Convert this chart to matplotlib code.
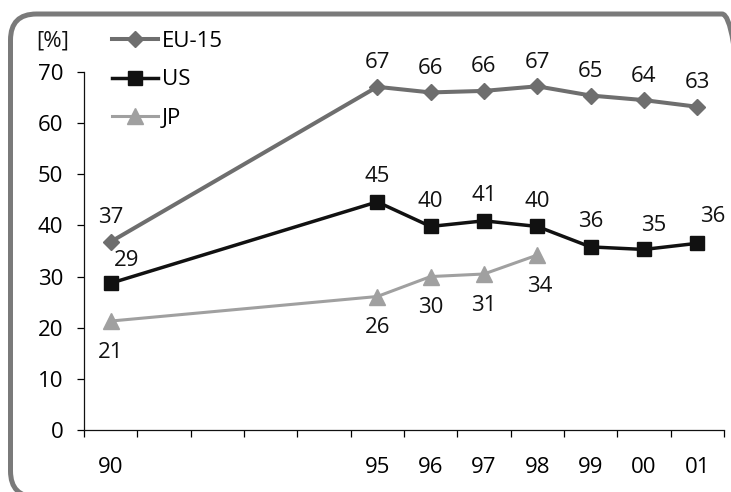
import numpy as np
import matplotlib
matplotlib.use("Agg")
import matplotlib.pyplot as plt
from matplotlib.patches import FancyBboxPatch

plt.rcParams['font.family'] = ['Open Sans', 'DejaVu Sans']

# category axis: 1990..2001, only some years labelled
years = ['90', '91', '92', '93', '94', '95', '96', '97', '98', '99', '00', '01']
year_labels = ['90', '', '', '', '', '95', '96', '97', '98', '99', '00', '01']

eu15 = [36.8, None, None, None, None, 67.1, 66.0, 66.3, 67.2, 65.4, 64.5, 63.2]
us = [28.7, None, None, None, None, 44.6, 39.8, 40.9, 39.8, 35.8, 35.3, 36.5]
jp = [21.3, None, None, None, None, 26.1, 30.0, 30.5, 34.2, None, None, None]

eu15_text = ['37', '', '', '', '', '67', '66', '66', '67', '65', '64', '63']
us_text = ['29', '', '', '', '', '45', '40', '41', '40', '36', '35', '36']
jp_text = ['21', '', '', '', '', '26', '30', '31', '34', '', '', '']

FS = 16

# label offsets in pixels (dx, dy)
us_offsets = {0: (16, 23), 10: (10, 24), 11: (16, 27)}

fig = plt.figure(figsize=(7.31, 4.92), dpi=100)

# background axes in pixel units (origin bottom-left), only for the frame
bg = fig.add_axes([0, 0, 1, 1])
bg.set_xlim(0, 731)
bg.set_ylim(0, 492)
bg.axis('off')
frame = FancyBboxPatch((10.5, -5), 737.5, 483,
                       boxstyle='round,pad=0,rounding_size=26',
                       facecolor='none', edgecolor='#7a7a7a',
                       linewidth=3.6)
bg.add_patch(frame)

ax = fig.add_axes([0.1149, 0.126, 0.8753, 0.7277])
ax.patch.set_alpha(0)

x = np.arange(len(years))


def pick(vals):
    idx = [i for i, v in enumerate(vals) if v is not None]
    return idx, [vals[i] for i in idx]


series = [
    ('EU-15', eu15, eu15_text, '#6e6e6e', 'D', 7.8, 2.9, 24),
    ('US', us, us_text, '#111111', 's', 10.5, 2.5, 25),
    ('JP', jp, jp_text, '#a0a0a0', '^', 11.0, 2.2, -31),
]

for name, vals, texts, col, mk, ms, lw, dy in series:
    idx, v = pick(vals)
    ax.plot(x[idx], v, color=col, lw=lw, marker=mk, markersize=ms,
            markeredgecolor=col, markerfacecolor=col, label=name,
            solid_joinstyle='miter', clip_on=False, zorder=3)
    for i, val in zip(idx, v):
        if not texts[i]:
            continue
        ox, oy = 0, dy
        if name == 'US' and i in us_offsets:
            ox, oy = us_offsets[i]
        if name == 'JP' and i == 8:
            ox = 3
        ax.annotate(texts[i], (x[i], val), xytext=(ox, oy),
                    textcoords='offset pixels', ha='center', va='center',
                    fontsize=FS, color='#111111')

ax.set_xlim(-0.5, len(years) - 0.5)
ax.set_ylim(0, 70)
ax.set_yticks(np.arange(0, 71, 10))

ax.set_xticks(np.arange(-0.5, len(years), 1.0))
ax.set_xticklabels([])
ax.set_xticks(x, minor=True)
ax.set_xticklabels(year_labels, minor=True)
ax.tick_params(axis='x', which='major', direction='out', length=5, width=0.9)
ax.tick_params(axis='x', which='minor', length=0, pad=19.5, labelsize=FS)
ax.tick_params(axis='y', direction='out', length=5, width=0.9, pad=10,
               labelsize=FS)

for s in ['top', 'right']:
    ax.spines[s].set_visible(False)
for s in ['left', 'bottom']:
    ax.spines[s].set_linewidth(0.9)
    ax.spines[s].set_color('#111111')

fig.text(53 / 731, 1 - 41 / 492, '[%]', ha='center', va='center',
         fontsize=FS, color='#111111')

ax.legend(loc='upper left', bbox_to_anchor=(112 / 731, 1 - 31 / 492),
          bbox_transform=fig.transFigure, frameon=False, fontsize=FS,
          handlelength=2.07, handletextpad=0.18, labelspacing=0.78,
          borderaxespad=0, borderpad=0)

fig.savefig('out.png', dpi=100)
